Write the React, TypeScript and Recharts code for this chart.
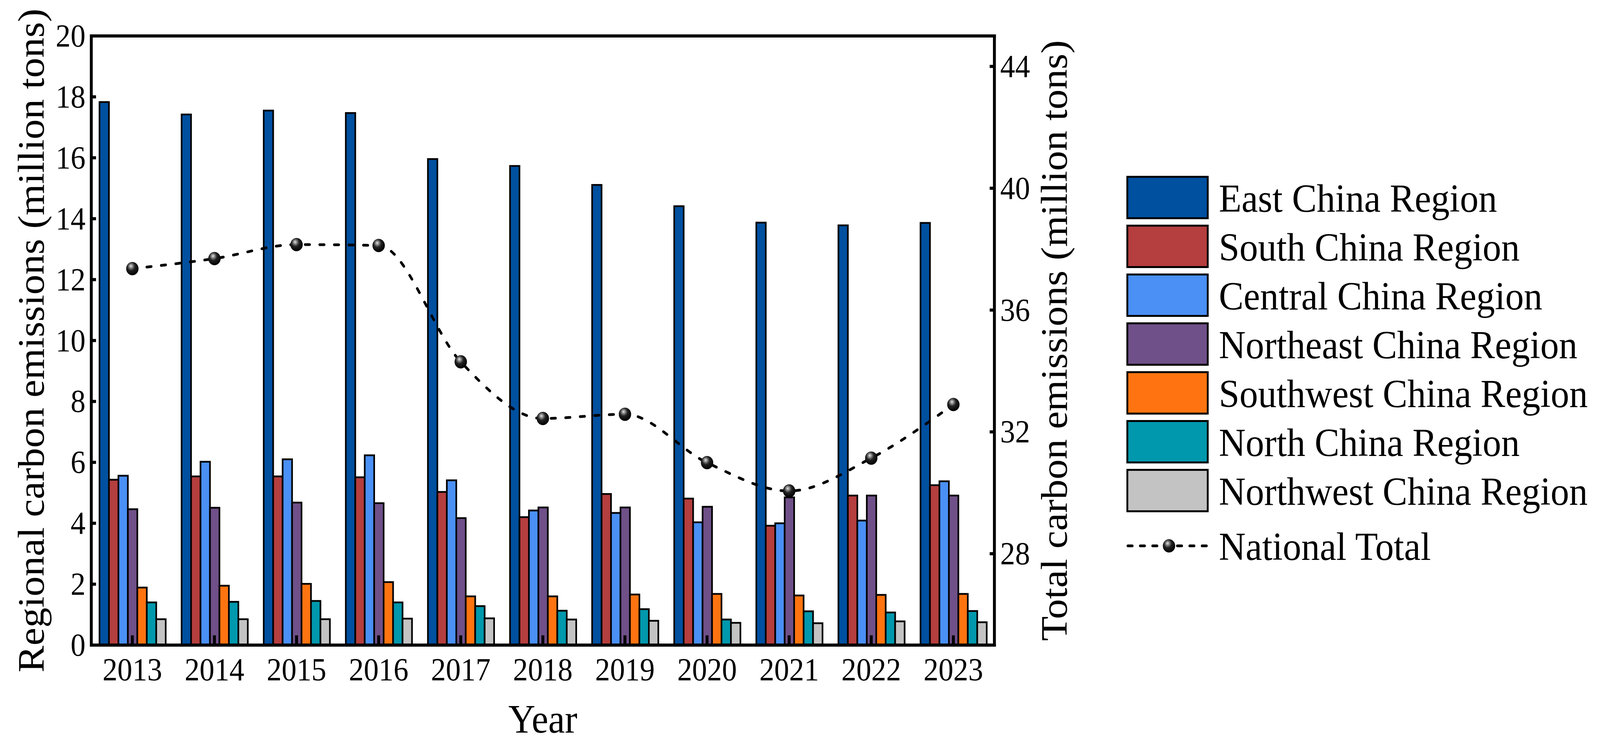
import React from "react";
import {
  ComposedChart,
  Bar,
  Line,
  XAxis,
  YAxis,
  ReferenceLine,
} from "recharts";

// ── Data ──────────────────────────────────────────────────────────────────────

const years = ["2013", "2014", "2015", "2016", "2017", "2018", "2019", "2020", "2021", "2022", "2023"];

const eastChina = [17.83, 17.42, 17.55, 17.47, 15.96, 15.73, 15.11, 14.41, 13.87, 13.78, 13.86];
const southChina = [5.43, 5.54, 5.54, 5.51, 5.03, 4.2, 4.96, 4.81, 3.92, 4.91, 5.25];
const centralChina = [5.56, 6.02, 6.1, 6.23, 5.41, 4.42, 4.34, 4.03, 4.0, 4.09, 5.38];
const northeastChina = [4.46, 4.51, 4.68, 4.66, 4.17, 4.52, 4.52, 4.54, 4.85, 4.91, 4.91];
const southwestChina = [1.89, 1.95, 2.01, 2.07, 1.6, 1.6, 1.66, 1.68, 1.63, 1.65, 1.68];
const northChina = [1.4, 1.42, 1.45, 1.4, 1.28, 1.13, 1.18, 0.84, 1.11, 1.07, 1.12];
const northwestChina = [0.85, 0.85, 0.85, 0.87, 0.88, 0.84, 0.8, 0.73, 0.72, 0.78, 0.75];
const nationalTotal = [37.36, 37.69, 38.15, 38.12, 34.3, 32.44, 32.58, 30.99, 30.06, 31.14, 32.9];

const leftTicks = [0, 2, 4, 6, 8, 10, 12, 14, 16, 18, 20];
const rightTicks = [28, 32, 36, 40, 44];

const regions = [
  { key: "East China Region", values: eastChina, color: "#0050A0" },
  { key: "South China Region", values: southChina, color: "#B53E3E" },
  { key: "Central China Region", values: centralChina, color: "#4A90F5" },
  { key: "Northeast China Region", values: northeastChina, color: "#6F5088" },
  { key: "Southwest China Region", values: southwestChina, color: "#FF7410" },
  { key: "North China Region", values: northChina, color: "#0098AD" },
  { key: "Northwest China Region", values: northwestChina, color: "#C3C3C3" },
];
const totalName = "National Total";

const data = years.map((year, i) => {
  const row: Record<string, string | number> = { year, [totalName]: nationalTotal[i] };
  regions.forEach((r) => (row[r.key] = r.values[i]));
  return row;
});

// ── Styling ───────────────────────────────────────────────────────────────────

if (typeof document !== "undefined") document.body.style.margin = "0";

// the chart is laid out on the reference's 4399×1899 canvas, then fitted to the window
const W = 4399;
const H = 1899;

const FONT = "'Times New Roman', 'Liberation Serif', serif";
const TICK_FONT = 82;
const TITLE_FONT = 103;
const LEGEND_FONT = 102;
const AXIS_W = 8;

// ── Ticks (drawn inward like the original) ────────────────────────────────────

function LeftTick({ x, y, payload }: any) {
  return (
    <g>
      <line x1={x + 16} x2={x + 29} y1={y} y2={y} stroke="#000" strokeWidth={8} />
      <text x={x} y={y} dy="0.33em" textAnchor="end" fontSize={TICK_FONT} fontFamily={FONT} fill="#000">
        {payload.value}
      </text>
    </g>
  );
}

function RightTick({ x, y, payload }: any) {
  return (
    <g>
      <line x1={x - 16} x2={x - 29} y1={y} y2={y} stroke="#000" strokeWidth={8} />
      <text x={x} y={y} dy="0.33em" textAnchor="start" fontSize={TICK_FONT} fontFamily={FONT} fill="#000">
        {payload.value}
      </text>
    </g>
  );
}

function BottomTick({ x, y, payload }: any) {
  return (
    <g>
      <line x1={x} x2={x} y1={y - 34} y2={y - 59} stroke="#000" strokeWidth={8} />
      <text x={x} y={y + 56} textAnchor="middle" fontSize={TICK_FONT} fontFamily={FONT} fill="#000">
        {payload.value}
      </text>
    </g>
  );
}

// ── Axis titles ───────────────────────────────────────────────────────────────

function VerticalTitle({ viewBox, text, dx }: any) {
  const vb = viewBox || { x: 0, y: 0, width: 0, height: 0 };
  const cx = vb.x + dx;
  const cy = vb.y + vb.height / 2;
  return (
    <text
      transform={`translate(${cx},${cy}) rotate(-90)`}
      textAnchor="middle"
      fontSize={TITLE_FONT}
      fontFamily={FONT}
      fill="#000"
    >
      {text}
    </text>
  );
}

function YearTitle({ viewBox }: any) {
  const vb = viewBox || { x: 0, y: 0, width: 0, height: 0 };
  return (
    <text x={vb.x + vb.width / 2} y={vb.y + 224} textAnchor="middle" fontSize={TITLE_FONT} fontFamily={FONT} fill="#000">
      Year
    </text>
  );
}

// ── Marker (shaded black ball) ────────────────────────────────────────────────

function BallGradient({ id }: { id: string }) {
  return (
    <radialGradient id={id} cx="0.42" cy="0.36" r="0.62" fx="0.38" fy="0.3">
      <stop offset="0%" stopColor="#e6e6e6" />
      <stop offset="22%" stopColor="#8a8a8a" />
      <stop offset="50%" stopColor="#222" />
      <stop offset="100%" stopColor="#000" />
    </radialGradient>
  );
}

// ── Legend ────────────────────────────────────────────────────────────────────

function LegendBlock() {
  const rowPitch = 125;
  return (
    <div style={{ position: "absolute", left: 3097, top: 450, fontFamily: FONT, fontSize: LEGEND_FONT, lineHeight: 1 }}>
      {regions.map((r, i) => (
        <div key={r.key} style={{ position: "absolute", left: 0, top: i * rowPitch, display: "flex", alignItems: "center", whiteSpace: "nowrap" }}>
          <div style={{ width: 216, height: 101, background: r.color, border: "5px solid #000" }} />
          <span style={{ marginLeft: 28, position: "relative", top: 2 }}>{r.key}</span>
        </div>
      ))}
      <div style={{ position: "absolute", left: 0, top: 7 * rowPitch + 16, display: "flex", alignItems: "center", whiteSpace: "nowrap", height: 111 }}>
        <svg width={234} height={60}>
          <defs>
            <BallGradient id="legendBall" />
          </defs>
          <line x1={4} x2={230} y1={30} y2={30} stroke="#000" strokeWidth={7} strokeDasharray="12 22" strokeLinecap="round" />
          <circle cx={117} cy={30} r={17} fill="url(#legendBall)" />
        </svg>
        <span style={{ marginLeft: 20, position: "relative", top: 2 }}>{totalName}</span>
      </div>
    </div>
  );
}

// ── Chart ─────────────────────────────────────────────────────────────────────

export default function App() {
  const axisLine = { stroke: "#000", strokeWidth: AXIS_W, strokeLinecap: "square" as const };
  const sx = typeof window !== "undefined" ? Math.min(1, window.innerWidth / W) : 1;
  const sy = typeof window !== "undefined" ? Math.min(1, window.innerHeight / H) : 1;

  return (
    <div style={{ width: W * sx, height: H * sy, overflow: "hidden" }}>
      <div
        style={{
          position: "relative",
          width: W,
          height: H,
          background: "#fff",
          transform: `scale(${sx}, ${sy})`,
          transformOrigin: "0 0",
        }}
      >
        <ComposedChart
          width={W}
          height={H}
          data={data}
          margin={{ top: 92, right: 1465, bottom: 98, left: 51 }}
          barCategoryGap="10%"
          barGap={0}
        >
          <defs>
            <BallGradient id="ball" />
          </defs>

          {regions.map((r) => (
            <Bar
              key={r.key}
              yAxisId="left"
              dataKey={r.key}
              fill={r.color}
              stroke="#000"
              strokeWidth={4.5}
              isAnimationActive={false}
            />
          ))}

          <Line
            yAxisId="right"
            type="monotone"
            dataKey={totalName}
            stroke="#000"
            strokeWidth={7}
            strokeDasharray="12 28"
            strokeLinecap="round"
            dot={{ r: 17, fill: "url(#ball)", stroke: "none", strokeDasharray: "" }}
            activeDot={false}
            isAnimationActive={false}
          />

          <ReferenceLine yAxisId="left" y={20} stroke="#000" strokeWidth={AXIS_W} strokeLinecap="square" />

          <XAxis
            dataKey="year"
            height={150}
            axisLine={axisLine}
            tickLine={false}
            tickSize={0}
            tickMargin={34}
            tick={<BottomTick />}
            interval={0}
            label={{ content: (p: any) => <YearTitle {...p} /> }}
          />
          <YAxis
            yAxisId="left"
            domain={[0, 20]}
            ticks={leftTicks}
            width={200}
            axisLine={axisLine}
            tickLine={false}
            tickSize={0}
            tickMargin={16}
            tick={<LeftTick />}
            interval={0}
            label={{
              content: (p: any) => (
                <VerticalTitle {...p} dx={69} text="Regional carbon emissions (million tons)" />
              ),
            }}
          />
          <YAxis
            yAxisId="right"
            orientation="right"
            domain={[25, 45]}
            ticks={rightTicks}
            width={200}
            axisLine={axisLine}
            tickLine={false}
            tickSize={0}
            tickMargin={16}
            tick={<RightTick />}
            interval={0}
            label={{
              content: (p: any) => (
                <VerticalTitle {...p} dx={199} text="Total carbon emissions (million tons)" />
              ),
            }}
          />
        </ComposedChart>
        <LegendBlock />
      </div>
    </div>
  );
}
